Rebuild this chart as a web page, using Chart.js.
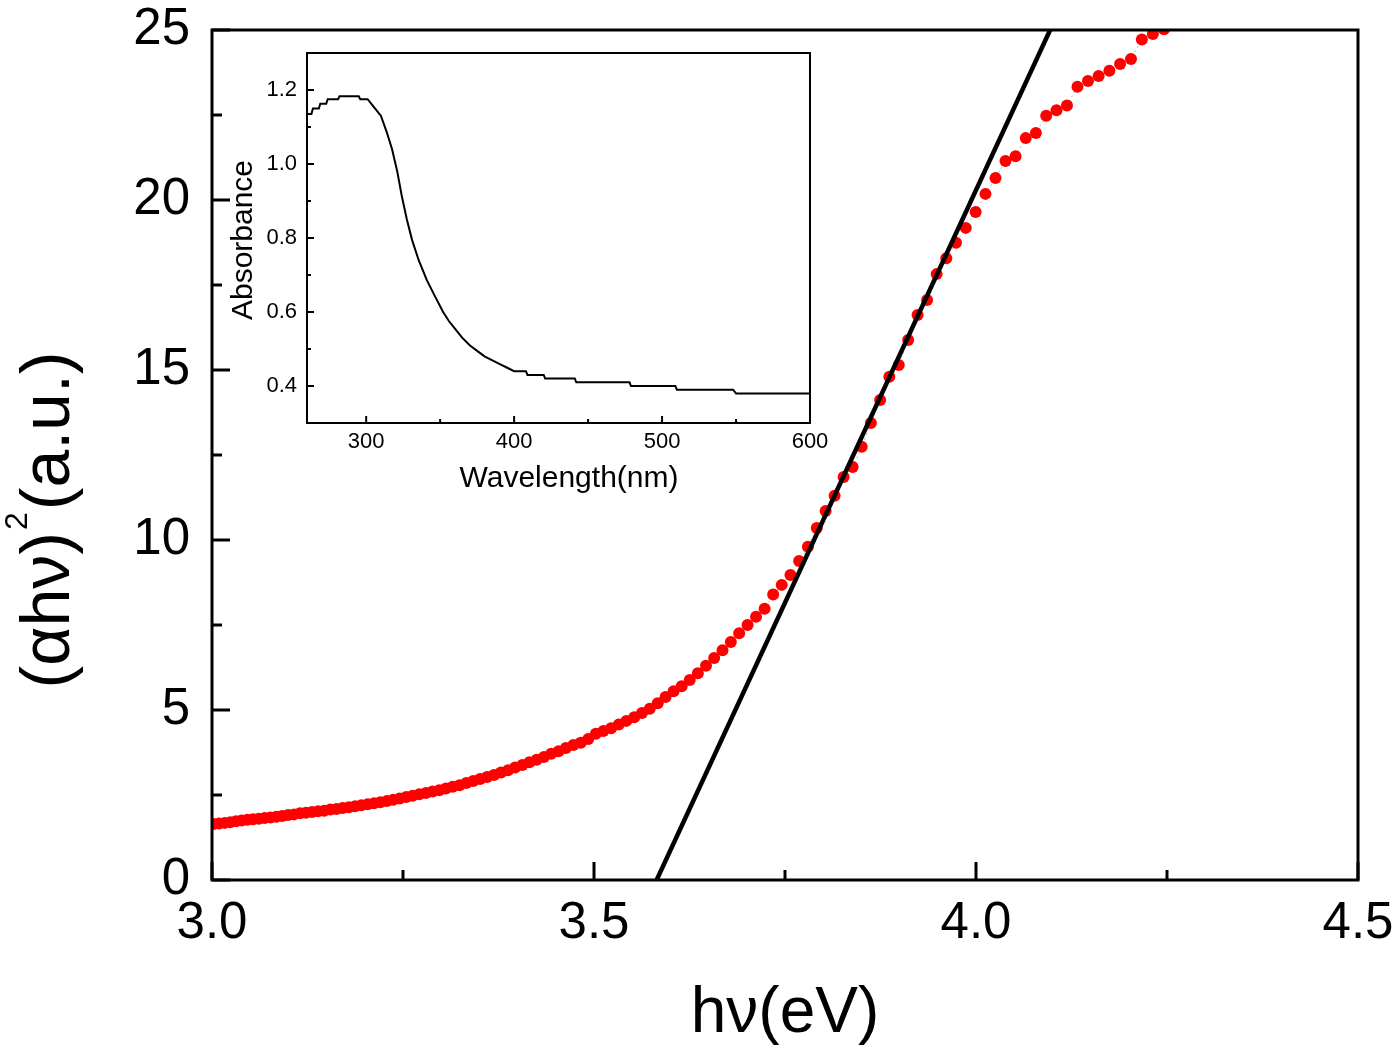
<!DOCTYPE html>
<html>
<head>
<meta charset="utf-8">
<script src="https://cdn.jsdelivr.net/npm/chart.js@4.4.1/dist/chart.umd.min.js"></script>
<style>
  html, body { margin: 0; padding: 0; background: #fff; }
  #wrap { position: relative; width: 1400px; height: 1051px; }
  #main { position: absolute; left: 0; top: 0; }
  #inset { position: absolute; left: 220px; top: 40px; }
</style>
</head>
<body>
<div id="wrap">
  <canvas id="main" width="1400" height="1051"></canvas>
  <canvas id="inset" width="620" height="460"></canvas>
</div>
<script>
// Tauc plot data: photon energy (eV) and (ahv)^2 (a.u.)
const energy = [
  3.0021, 3.0093, 3.0166, 3.0240, 3.0314, 3.0388, 3.0463, 3.0538, 3.0613, 3.0689,
  3.0765, 3.0842, 3.0919, 3.0996, 3.1074, 3.1152, 3.1230, 3.1309, 3.1388, 3.1468,
  3.1548, 3.1629, 3.1710, 3.1791, 3.1873, 3.1955, 3.2038, 3.2121, 3.2204, 3.2288,
  3.2372, 3.2457, 3.2542, 3.2627, 3.2713, 3.2800, 3.2887, 3.2974, 3.3062, 3.3151,
  3.3240, 3.3329, 3.3419, 3.3509, 3.3600, 3.3691, 3.3783, 3.3875, 3.3968, 3.4062,
  3.4155, 3.4250, 3.4345, 3.4440, 3.4536, 3.4632, 3.4730, 3.4827, 3.4925, 3.5024,
  3.5123, 3.5223, 3.5323, 3.5424, 3.5526, 3.5628, 3.5730, 3.5834, 3.5937, 3.6042,
  3.6147, 3.6253, 3.6359, 3.6466, 3.6573, 3.6682, 3.6791, 3.6900, 3.7010, 3.7121,
  3.7233, 3.7345, 3.7457, 3.7571, 3.7685, 3.7800, 3.7916, 3.8032, 3.8149, 3.8267,
  3.8385, 3.8504, 3.8624, 3.8745, 3.8866, 3.8989, 3.9112, 3.9235, 3.9360, 3.9485,
  3.9611, 3.9738, 3.9866, 3.9995, 4.0124, 4.0255, 4.0386, 4.0518, 4.0651, 4.0784,
  4.0919, 4.1054, 4.1191, 4.1328, 4.1466, 4.1605, 4.1746, 4.1886, 4.2029, 4.2171,
  4.2315, 4.2460
];
const ahv2 = [
  1.65, 1.66, 1.68, 1.70, 1.73, 1.75, 1.77, 1.79, 1.80, 1.82,
  1.84, 1.86, 1.88, 1.91, 1.93, 1.96, 1.98, 2.00, 2.02, 2.04,
  2.07, 2.09, 2.12, 2.14, 2.17, 2.20, 2.23, 2.26, 2.29, 2.32,
  2.36, 2.40, 2.44, 2.48, 2.52, 2.56, 2.60, 2.64, 2.69, 2.74,
  2.79, 2.85, 2.91, 2.97, 3.03, 3.09, 3.16, 3.23, 3.31, 3.38,
  3.46, 3.54, 3.62, 3.71, 3.79, 3.88, 3.97, 4.04, 4.15, 4.30,
  4.38, 4.46, 4.57, 4.68, 4.79, 4.91, 5.04, 5.20, 5.38, 5.55,
  5.70, 5.88, 6.08, 6.30, 6.53, 6.76, 7.00, 7.26, 7.50, 7.74,
  7.98, 8.40, 8.68, 8.97, 9.38, 9.80, 10.35, 10.85, 11.30, 11.85,
  12.15, 12.74, 13.44, 14.12, 14.80, 15.15, 15.88, 16.62, 17.06, 17.82,
  18.29, 18.74, 19.18, 19.65, 20.18, 20.65, 21.15, 21.29, 21.82, 21.97,
  22.48, 22.64, 22.78, 23.33, 23.50, 23.65, 23.80, 24.00, 24.15, 24.72,
  24.88, 25.02
];
// linear fit to the absorption edge
const fitE = [3.582, 4.097];
const fitV = [0, 25];

const xTickVals = [3.0, 3.5, 4.0, 4.5];
const xMinorVals = [3.25, 3.75, 4.25];
const yTickVals = [0, 5, 10, 15, 20, 25];
const yMinorVals = [2.5, 7.5, 12.5, 17.5, 22.5];

// inset: UV-vis absorbance spectrum (stepped where the readout is quantised)
const wavelength = [
  260, 263, 264, 268, 269, 273, 274, 281, 282, 295,
  296, 301, 305, 310, 314, 317.5, 321, 324, 327.5, 331,
  335.5, 341, 346.7, 352, 356, 360, 365, 370, 375, 380,
  385, 390, 395, 400, 408, 409, 420, 421, 441, 442,
  478, 479, 509, 510, 548, 550, 600
];
const absorbance = [
  1.135, 1.135, 1.15, 1.15, 1.163, 1.163, 1.175, 1.175, 1.183, 1.183,
  1.175, 1.175, 1.155, 1.13, 1.085, 1.04, 0.98, 0.915, 0.85, 0.795,
  0.74, 0.686, 0.641, 0.60, 0.575, 0.555, 0.53, 0.51, 0.495, 0.48,
  0.47, 0.46, 0.45, 0.44, 0.44, 0.43, 0.43, 0.42, 0.42, 0.41,
  0.41, 0.40, 0.40, 0.39, 0.39, 0.38, 0.38
];
const insetXTicks = [300, 400, 500, 600];
const insetXMinor = [350, 450, 550];
const insetYTicks = [0.4, 0.6, 0.8, 1.0, 1.2];
const insetYMinor = [0.5, 0.7, 0.9, 1.1];

const FONT = "'Liberation Sans', Arial, Helvetica, sans-serif";

// frame box plus inward major/minor ticks on the bottom and left axes
const frameTicks = {
  id: 'frameTicks',
  afterDatasetsDraw(chart, args, o) {
    const { ctx, chartArea: a } = chart;
    const x = chart.scales.x, y = chart.scales.y;
    ctx.save();
    ctx.strokeStyle = '#000';
    ctx.lineWidth = o.lw;
    ctx.lineCap = 'square';
    ctx.strokeRect(a.left, a.top, a.right - a.left, a.bottom - a.top);
    ctx.beginPath();
    o.xMajor.forEach(v => { const p = x.getPixelForValue(v); ctx.moveTo(p, a.bottom); ctx.lineTo(p, a.bottom - o.major); });
    o.xMinor.forEach(v => { const p = x.getPixelForValue(v); ctx.moveTo(p, a.bottom); ctx.lineTo(p, a.bottom - o.minor); });
    o.yMajor.forEach(v => { const p = y.getPixelForValue(v); ctx.moveTo(a.left, p); ctx.lineTo(a.left + o.major, p); });
    o.yMinor.forEach(v => { const p = y.getPixelForValue(v); ctx.moveTo(a.left, p); ctx.lineTo(a.left + o.minor, p); });
    ctx.lineCap = 'butt';
    ctx.lineWidth = o.tw;
    ctx.stroke();
    ctx.restore();
  }
};

// axis titles, with optional superscript pieces
const axisTitles = {
  id: 'axisTitles',
  afterDraw(chart, args, o) {
    const ctx = chart.ctx;
    o.items.forEach(t => {
      ctx.save();
      ctx.fillStyle = '#000';
      ctx.textBaseline = 'alphabetic';
      ctx.textAlign = 'left';
      ctx.translate(t.x, t.y);
      if (t.rotate) ctx.rotate(t.rotate);
      const widths = t.segs.map(s => { ctx.font = s.size + 'px ' + FONT; return ctx.measureText(s.text).width + (s.gap || 0); });
      let cx = -widths.reduce((p, c) => p + c, 0) / 2;
      t.segs.forEach((s, i) => {
        ctx.font = s.size + 'px ' + FONT;
        ctx.fillText(s.text, cx + (s.gap || 0) / 2, -(s.rise || 0));
        cx += widths[i];
      });
      ctx.restore();
    });
  }
};

new Chart(document.getElementById('main'), {
  type: 'scatter',
  data: {
    datasets: [
      {
        label: 'fit',
        data: fitE.map((e, i) => ({ x: e, y: fitV[i] })),
        showLine: true,
        borderColor: '#000',
        borderWidth: 4.5,
        pointRadius: 0
      },
      {
        label: '(ahv)^2',
        data: energy.map((e, i) => ({ x: e, y: ahv2[i] })),
        showLine: true,
        borderColor: 'rgba(120,120,120,0.55)',
        borderWidth: 1,
        borderDash: [2, 3],
        pointRadius: 6,
        pointBorderWidth: 0,
        pointBackgroundColor: '#ff0000'
      }
    ]
  },
  options: {
    responsive: false,
    animation: false,
    layout: { padding: { left: 0, top: 30, right: 42, bottom: 0 } },
    plugins: {
      legend: { display: false },
      tooltip: { enabled: false },
      frameTicks: {
        lw: 3, tw: 3, major: 18, minor: 10,
        xMajor: xTickVals, xMinor: xMinorVals, yMajor: yTickVals, yMinor: yMinorVals
      },
      axisTitles: {
        items: [
          { x: 785, y: 1032, segs: [{ text: 'h\u03bd(eV)', size: 64 }] },
          { x: 69, y: 520, rotate: -Math.PI / 2, segs: [
            { text: '(\u03b1h\u03bd)', size: 68 },
            { text: '2', size: 32, rise: 42, gap: 4 },
            { text: '(a.u.)', size: 68 }
          ] }
        ]
      }
    },
    scales: {
      x: {
        type: 'linear', min: 3, max: 4.5,
        afterFit(s) { s.height = 171; },
        afterBuildTicks(s) { s.ticks = xTickVals.map(v => ({ value: v })); },
        grid: { display: false, drawTicks: false },
        border: { display: false },
        ticks: {
          autoSkip: false, maxRotation: 0, padding: 0, color: '#000',
          font: { family: FONT, size: 51, lineHeight: 1.73 },
          callback: v => v.toFixed(1)
        }
      },
      y: {
        type: 'linear', min: 0, max: 25,
        afterFit(s) { s.width = 212; },
        afterBuildTicks(s) { s.ticks = yTickVals.map(v => ({ value: v })); },
        grid: { display: false, drawTicks: false },
        border: { display: false },
        ticks: {
          autoSkip: false, padding: 22, color: '#000',
          font: { family: FONT, size: 51, lineHeight: 0.1 },
          callback: v => String(v)
        }
      }
    }
  },
  plugins: [frameTicks, axisTitles]
});

new Chart(document.getElementById('inset'), {
  type: 'scatter',
  data: {
    datasets: [{
      label: 'Absorbance',
      data: wavelength.map((w, i) => ({ x: w, y: absorbance[i] })),
      showLine: true,
      borderColor: '#000',
      borderWidth: 2,
      pointRadius: 0,
      tension: 0
    }]
  },
  options: {
    responsive: false,
    animation: false,
    layout: { padding: { left: 0, top: 13, right: 30, bottom: 0 } },
    plugins: {
      legend: { display: false },
      tooltip: { enabled: false },
      frameTicks: {
        lw: 2, tw: 2, major: 7, minor: 4,
        xMajor: insetXTicks, xMinor: insetXMinor, yMajor: insetYTicks, yMinor: insetYMinor
      },
      axisTitles: {
        items: [
          { x: 349, y: 447, segs: [{ text: 'Wavelength(nm)', size: 30 }] },
          { x: 32, y: 200, rotate: -Math.PI / 2, segs: [{ text: 'Absorbance', size: 30 }] }
        ]
      }
    },
    scales: {
      x: {
        type: 'linear', min: 260, max: 600,
        afterFit(s) { s.height = 77; },
        afterBuildTicks(s) { s.ticks = insetXTicks.map(v => ({ value: v })); },
        grid: { display: false, drawTicks: false },
        border: { display: false },
        ticks: {
          autoSkip: false, maxRotation: 0, padding: 8, color: '#000',
          font: { family: FONT, size: 22, lineHeight: 1 },
          callback: v => String(v)
        }
      },
      y: {
        type: 'linear', min: 0.3, max: 1.3,
        afterFit(s) { s.width = 87; },
        afterBuildTicks(s) { s.ticks = insetYTicks.map(v => ({ value: v })); },
        grid: { display: false, drawTicks: false },
        border: { display: false },
        ticks: {
          autoSkip: false, padding: 10, color: '#000',
          font: { family: FONT, size: 22, lineHeight: 0.1 },
          callback: v => v.toFixed(1)
        }
      }
    }
  },
  plugins: [frameTicks, axisTitles]
});
</script>
</body>
</html>
